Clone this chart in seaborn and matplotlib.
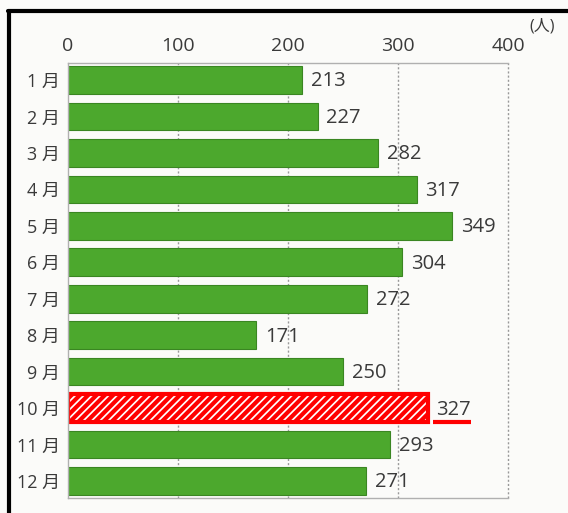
import matplotlib
matplotlib.use("Agg")
import matplotlib.pyplot as plt
import seaborn as sns
import pandas as pd
from matplotlib.lines import Line2D

months = ["1月", "2月", "3月", "4月", "5月", "6月", "7月", "8月", "9月", "10月", "11月", "12月"]
visitors = [213, 227, 282, 317, 349, 304, 272, 171, 250, 327, 293, 271]
x_ticks = [0, 100, 200, 300, 400]
unit_label = "(人)"
highlight = "10月"

sns.set_theme(style="white")
plt.rcParams['font.family'] = ['Open Sans', 'Noto Sans CJK JP', 'DejaVu Sans']
plt.rcParams['hatch.color'] = "#ff0000"
plt.rcParams['hatch.linewidth'] = 3.0

df = pd.DataFrame({"month": months, "visitors": visitors})

fig = plt.figure(figsize=(5.68, 5.13), dpi=100)
fig.patch.set_facecolor("#fbfbf9")
ax = fig.add_axes([68/568, 1-498/513, 440/568, 435/513])
ax.set_facecolor("#fbfbf9")

green = "#4ca82d"
palette = {m: ("#ffffff" if m == highlight else green) for m in months}
sns.barplot(data=df, x="visitors", y="month", hue="month", palette=palette,
            legend=False, ax=ax, width=0.76, saturation=1, edgecolor="#3a8622", linewidth=0.8)

for bar, m in zip(ax.patches, months):
    if m == highlight:
        bar.set_facecolor("white")
        bar.set_edgecolor("#ff0000")
        bar.set_hatch("////")
        bar.set_linewidth(3)
        bar._hatch_color = matplotlib.colors.to_rgba("#ff0000")

ax.set_xlim(0, 400)
ax.set_ylim(11.466, -0.466)
ax.xaxis.tick_top()
ax.set_xticks(x_ticks)
ax.set_xticklabels([str(t) for t in x_ticks], fontsize=14, color="#3a3a3a")
ax.tick_params(axis="x", length=0, pad=6)
ax.tick_params(axis="y", length=0, pad=6)
ax.set_yticks(range(len(months)))
ax.set_yticklabels([m.replace("月", " 月") for m in months], fontsize=13, color="#3a3a3a")
ax.set_xlabel("")
ax.set_ylabel("")

for t in x_ticks[1:]:
    ax.axvline(t, color="#999999", lw=1, ls=(0, (1.5, 1.5)), zorder=0, clip_on=False)
for s in ["top", "bottom", "left"]:
    ax.spines[s].set_color("#b0b0b0")
    ax.spines[s].set_linewidth(1)
ax.spines["right"].set_visible(False)
ax.set_axisbelow(True)

for i, (m, v) in enumerate(zip(months, visitors)):
    ax.text(v + 8, i + 0.04, str(v), va="center", ha="left", fontsize=14.5, color="#3a3a3a")
    if m == highlight:
        ax.plot([v + 5, v + 39], [i + 0.38, i + 0.38], color="#ff0000", lw=3,
                solid_capstyle="butt", clip_on=False)

fig.text(542/568, 1-27/513, unit_label, ha="center", va="center", fontsize=11.5, color="#3a3a3a")

# black frame (left and top edges)
fig.add_artist(Line2D([9/568, 9/568], [0, 1-11/513], transform=fig.transFigure, color="black", lw=3))
fig.add_artist(Line2D([7.5/568, 1], [1-11/513, 1-11/513], transform=fig.transFigure, color="black", lw=3))

fig.savefig("out.png", dpi=100, facecolor=fig.get_facecolor())
